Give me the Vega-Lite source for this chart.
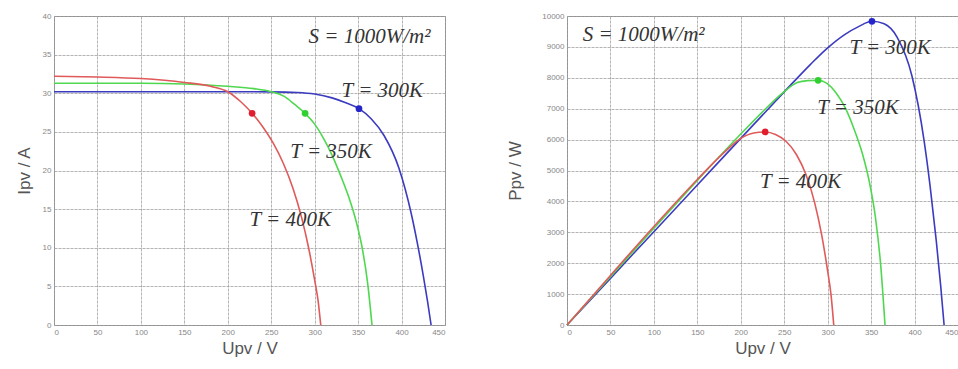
{
  "$schema": "https://vega.github.io/schema/vega-lite/v6.json",
  "background": "white",
  "padding": {"left": 14, "top": 11, "right": 0, "bottom": 0},
  "spacing": 60,
  "config": {
    "font": "Liberation Sans",
    "view": {"stroke": "#8a8a8a", "strokeWidth": 1},
    "axis": {
      "labelFontSize": 8, "labelColor": "#888", "labelPadding": 3, "labelOverlap": false,
      "titleFontSize": 17, "titleColor": "#555", "titleFontWeight": "normal",
      "grid": true, "gridColor": "#a0a0a0", "gridDash": [3, 1], "gridOpacity": 0.8,
      "domain": false, "ticks": false
    }
  },
  "datasets": {
    "curves": [
      {"s": "300", "V": 0, "I": 30.2, "P": 0},
      {"s": "300", "V": 50, "I": 30.2, "P": 1510},
      {"s": "300", "V": 100, "I": 30.2, "P": 3020},
      {"s": "300", "V": 150, "I": 30.2, "P": 4530},
      {"s": "300", "V": 200, "I": 30.2, "P": 6040},
      {"s": "300", "V": 250, "I": 30.18, "P": 7545},
      {"s": "300", "V": 280, "I": 30.1, "P": 8428},
      {"s": "300", "V": 300, "I": 29.9, "P": 8970},
      {"s": "300", "V": 320, "I": 29.4, "P": 9408},
      {"s": "300", "V": 335, "I": 28.8, "P": 9648},
      {"s": "300", "V": 351, "I": 28.0, "P": 9828},
      {"s": "300", "V": 365, "I": 26.7, "P": 9746},
      {"s": "300", "V": 380, "I": 24.5, "P": 9310},
      {"s": "300", "V": 397, "I": 20.3, "P": 8059},
      {"s": "300", "V": 411, "I": 14.5, "P": 5960},
      {"s": "300", "V": 418, "I": 10.7, "P": 4473},
      {"s": "300", "V": 425, "I": 6.4, "P": 2720},
      {"s": "300", "V": 430, "I": 3.0, "P": 1290},
      {"s": "300", "V": 434, "I": 0, "P": 0},
      {"s": "350", "V": 0, "I": 31.3, "P": 0},
      {"s": "350", "V": 50, "I": 31.3, "P": 1565},
      {"s": "350", "V": 100, "I": 31.3, "P": 3130},
      {"s": "350", "V": 150, "I": 31.2, "P": 4680},
      {"s": "350", "V": 200, "I": 30.9, "P": 6180},
      {"s": "350", "V": 230, "I": 30.6, "P": 7038},
      {"s": "350", "V": 250, "I": 30.2, "P": 7550},
      {"s": "350", "V": 265, "I": 29.6, "P": 7844},
      {"s": "350", "V": 277, "I": 28.55, "P": 7908},
      {"s": "350", "V": 289, "I": 27.4, "P": 7919},
      {"s": "350", "V": 300, "I": 26.0, "P": 7800},
      {"s": "350", "V": 310, "I": 24.2, "P": 7502},
      {"s": "350", "V": 320, "I": 22.0, "P": 7040},
      {"s": "350", "V": 330, "I": 19.3, "P": 6369},
      {"s": "350", "V": 340, "I": 16.3, "P": 5542},
      {"s": "350", "V": 348, "I": 13.3, "P": 4628},
      {"s": "350", "V": 355, "I": 9.8, "P": 3479},
      {"s": "350", "V": 361, "I": 5.4, "P": 1949},
      {"s": "350", "V": 366, "I": 0, "P": 0},
      {"s": "400", "V": 0, "I": 32.2, "P": 0},
      {"s": "400", "V": 50, "I": 32.1, "P": 1605},
      {"s": "400", "V": 100, "I": 31.9, "P": 3190},
      {"s": "400", "V": 150, "I": 31.4, "P": 4710},
      {"s": "400", "V": 180, "I": 30.9, "P": 5562},
      {"s": "400", "V": 200, "I": 30.2, "P": 6040},
      {"s": "400", "V": 215, "I": 28.9, "P": 6214},
      {"s": "400", "V": 228, "I": 27.4, "P": 6247},
      {"s": "400", "V": 240, "I": 25.7, "P": 6168},
      {"s": "400", "V": 252, "I": 23.6, "P": 5947},
      {"s": "400", "V": 264, "I": 20.9, "P": 5518},
      {"s": "400", "V": 275, "I": 17.7, "P": 4868},
      {"s": "400", "V": 285, "I": 13.9, "P": 3962},
      {"s": "400", "V": 293, "I": 10.0, "P": 2930},
      {"s": "400", "V": 300, "I": 5.8, "P": 1740},
      {"s": "400", "V": 304, "I": 3.1, "P": 942},
      {"s": "400", "V": 307, "I": 0, "P": 0}
    ],
    "mpp": [
      {"s": "300", "V": 351, "I": 28.0, "P": 9828},
      {"s": "350", "V": 289, "I": 27.4, "P": 7919},
      {"s": "400", "V": 228, "I": 27.4, "P": 6247}
    ],
    "labels": [
      {"panel": "IV", "x": 293, "y": 37.3, "text": "S = 1000W/m²"},
      {"panel": "IV", "x": 331, "y": 30.3, "text": "T = 300K"},
      {"panel": "IV", "x": 272, "y": 22.4, "text": "T = 350K"},
      {"panel": "IV", "x": 225, "y": 13.6, "text": "T = 400K"},
      {"panel": "PV", "x": 18, "y": 9385, "text": "S = 1000W/m²"},
      {"panel": "PV", "x": 325, "y": 8964, "text": "T = 300K"},
      {"panel": "PV", "x": 288, "y": 7020, "text": "T = 350K"},
      {"panel": "PV", "x": 222, "y": 4630, "text": "T = 400K"}
    ]
  },
  "hconcat": [
    {
      "width": 391, "height": 309,
      "encoding": {
        "x": {"field": "V", "type": "quantitative", "scale": {"domain": [0, 450], "nice": false}, "axis": {"values": [0,50,100,150,200,250,300,350,400,450], "title": "Upv / V", "titlePadding": 4}},
        "y": {"field": "I", "type": "quantitative", "scale": {"domain": [0, 40], "nice": false}, "axis": {"values": [0,5,10,15,20,25,30,35,40], "title": "Ipv / A", "titlePadding": 9}}
      },
      "layer": [
        {
          "data": {"name": "curves"},
          "mark": {"type": "line", "interpolate": "monotone", "strokeWidth": 1.6},
          "encoding": {
            "color": {"field": "s", "type": "nominal", "scale": {"domain": ["300","350","400"], "range": ["#3b3bc0", "#4fd84f", "#e05a5a"]}, "legend": null}
          }
        },
        {
          "data": {"name": "mpp"},
          "mark": {"type": "point", "filled": true, "size": 45, "opacity": 1},
          "encoding": {
            "fill": {"field": "s", "type": "nominal", "scale": {"domain": ["300","350","400"], "range": ["#2626c8", "#2fd02f", "#e01e2e"]}, "legend": null}
          }
        },
        {
          "data": {"name": "labels"},
          "transform": [{"filter": "datum.panel == 'IV'"}],
          "mark": {"type": "text", "align": "left", "baseline": "middle", "font": "Liberation Serif", "fontStyle": "italic", "fontSize": 21, "color": "#333"},
          "encoding": {
            "x": {"field": "x", "type": "quantitative"},
            "y": {"field": "y", "type": "quantitative"},
            "text": {"field": "text"}
          }
        }
      ]
    },
    {
      "width": 391, "height": 309,
      "encoding": {
        "x": {"field": "V", "type": "quantitative", "scale": {"domain": [0, 450], "nice": false}, "axis": {"values": [0,50,100,150,200,250,300,350,400,450], "title": "Upv / V", "titlePadding": 4}},
        "y": {"field": "P", "type": "quantitative", "scale": {"domain": [0, 10000], "nice": false}, "axis": {"values": [0,1000,2000,3000,4000,5000,6000,7000,8000,9000,10000], "format": "d", "title": "Ppv / W", "titlePadding": 17}}
      },
      "layer": [
        {
          "data": {"name": "curves"},
          "mark": {"type": "line", "interpolate": "monotone", "strokeWidth": 1.6},
          "encoding": {
            "color": {"field": "s", "type": "nominal", "scale": {"domain": ["300","350","400"], "range": ["#3b3bc0", "#4fd84f", "#e05a5a"]}, "legend": null}
          }
        },
        {
          "data": {"name": "mpp"},
          "mark": {"type": "point", "filled": true, "size": 45, "opacity": 1},
          "encoding": {
            "fill": {"field": "s", "type": "nominal", "scale": {"domain": ["300","350","400"], "range": ["#2626c8", "#2fd02f", "#e01e2e"]}, "legend": null}
          }
        },
        {
          "data": {"name": "labels"},
          "transform": [{"filter": "datum.panel == 'PV'"}],
          "mark": {"type": "text", "align": "left", "baseline": "middle", "font": "Liberation Serif", "fontStyle": "italic", "fontSize": 21, "color": "#333"},
          "encoding": {
            "x": {"field": "x", "type": "quantitative"},
            "y": {"field": "y", "type": "quantitative"},
            "text": {"field": "text"}
          }
        }
      ]
    }
  ],
  "resolve": {"scale": {"color": "independent", "fill": "independent"}}
}
